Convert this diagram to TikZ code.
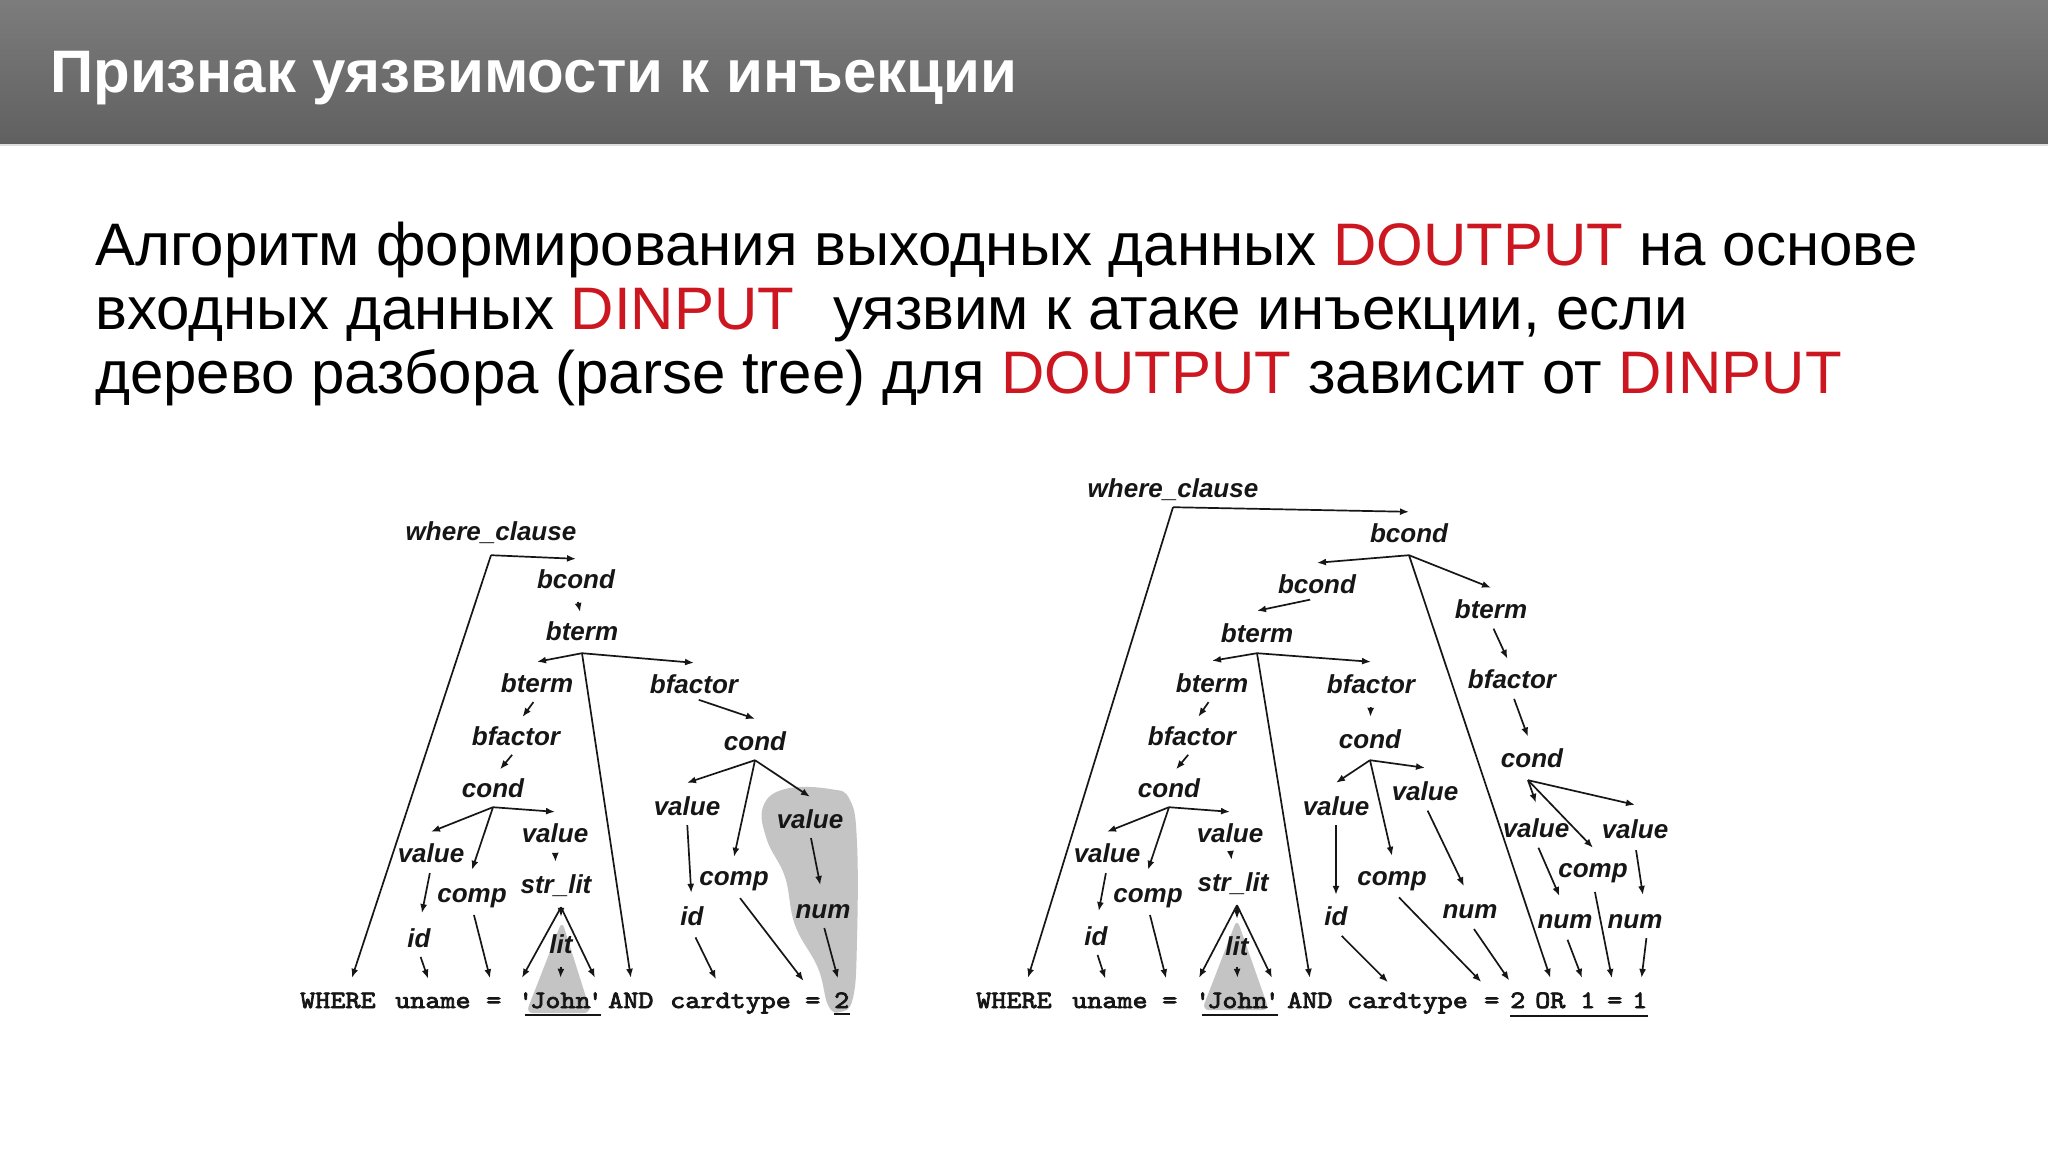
\documentclass[tikz,border=0pt]{standalone}
\usepackage{fontspec}
\setmainfont{Liberation Sans}
\newfontfamily\codefont{lmmono10-regular.otf}[Ligatures=TeXOff,FakeBold=3,FakeStretch=1.15]
\usetikzlibrary{arrows.meta,calc}
\definecolor{myred}{RGB}{204,22,32}
\definecolor{hdtop}{RGB}{124,124,124}
\definecolor{hdbot}{RGB}{96,96,96}
\definecolor{shgray}{RGB}{196,196,196}
\definecolor{ink}{RGB}{22,22,22}
\newcommand\redw[1]{\textcolor{myred}{#1}}
\begin{document}
\begin{tikzpicture}[x=1pt,y=-1pt,
  tl/.style={font=\fontsize{26}{26}\selectfont\bfseries\itshape, text=ink, inner sep=0pt, text height=19pt, text depth=5pt, anchor=base},
  tok/.style={font=\codefont\fontsize{25}{25}\selectfont, text=ink, inner sep=0pt, text height=15pt, text depth=4pt, anchor=base west},
  arr/.style={draw=ink, line width=1.7pt, -{Latex[length=9pt,width=7pt]}},
  uln/.style={draw=ink, line width=2pt},
  body/.style={font=\fontsize{60}{64}\selectfont, text=black, inner sep=0pt, anchor=base west}]
\useasboundingbox (0,0) rectangle (2048,1152);
\fill[white] (0,0) rectangle (2048,1152);
% header
\shade[top color=hdtop, bottom color=hdbot] (0,0) rectangle (2048,144);
\fill[gray!25] (0,144) rectangle (2048,146);
\node[anchor=base west, inner sep=0pt, text=white, font=\fontsize{60}{62}\selectfont\bfseries] (title) at (50,92) {Признак уязвимости к инъекции};
% body text
\node[body] (line1) at (95,265) {Алгоритм формирования выходных данных \redw{DOUTPUT} на основе};
\node[body] (line2) at (95,329) {входных данных \redw{DINPUT}\hspace*{39pt}уязвим к атаке инъекции, если};
\node[body] (line3) at (95,393) {дерево разбора (parse tree) для \redw{DOUTPUT} зависит от \redw{DINPUT}};

% grey shading
\fill[shgray, rounded corners=7pt] (562,921) -- (591,1013) -- (526,1013) -- cycle;
\fill[shgray] plot[smooth cycle, tension=0.7] coordinates {(763,807) (767,840) (785,877) (795,925) (818,968) (828,1005) (840,1012) (853,998) (857,940) (857,843) (850,800) (830,789) (785,789)};
\fill[shgray, rounded corners=7pt] (1237,919) -- (1269,1010) -- (1202,1010) -- cycle;

% ---------- left tree ----------
\node[tl] (Lwc) at (491,540) {where\_clause};
\node[tl] (Lbc) at (576,588) {bcond};
\node[tl] (Lbt1) at (582,640) {bterm};
\node[tl] (Lbt2) at (537,692) {bterm};
\node[tl] (Lbfr) at (694,693) {bfactor};
\node[tl] (Lbfl) at (516,745) {bfactor};
\node[tl] (Lcr) at (755,750) {cond};
\node[tl] (Lcl) at (493,797) {cond};
\node[tl] (Lvr1) at (687,815) {value};
\node[tl] (Lvr2) at (810,828) {value};
\node[tl] (Lvl1) at (431,862) {value};
\node[tl] (Lvl2) at (555,842) {value};
\node[tl] (Lcpl) at (472,902) {comp};
\node[tl] (Lsl) at (556,893) {str\_lit};
\node[tl] (Lcpr) at (734,885) {comp};
\node[tl] (Lidl) at (419,947) {id};
\node[tl] (Lidr) at (692,925) {id};
\node[tl] (Lnum) at (823,918) {num};
\node[tl] (Llit) at (561,953) {lit};

\node[tok] (LtW) at (300,1008) {WHERE};
\node[tok] (LtU) at (395,1008) {uname};
\node[tok] (LtE) at (486,1008) {=};
\node[tok] (LtJ) at (518,1008) {'\kern-3pt John\kern-3pt'};
\node[tok] (LtA) at (608,1008) {AND};
\node[tok] (LtC) at (670,1008) {cardtype};
\node[tok] (LtE2) at (805,1008) {=};
\node[tok] (Lt2) at (834,1008) {2};
\draw[uln] ([xshift=7pt,yshift=-7pt]LtJ.base west) -- ([xshift=-2pt,yshift=-7pt]LtJ.base east);
\draw[uln] ([yshift=-6pt]Lt2.base west) -- ([yshift=-6pt]Lt2.base east);

\coordinate (LwcF) at ([yshift=-10pt]Lwc.south);
\draw[arr] (LwcF) -- ([yshift=10pt]Lbc.north);
\draw[arr] (LwcF) -- ([xshift=14pt,yshift=15pt]LtW.north);
\draw[arr, shorten <=9pt, shorten >=9pt] (Lbc.south) -- (Lbt1.north);
\coordinate (LbtF) at ([yshift=-8pt]Lbt1.south);
\draw[arr] (LbtF) -- ([yshift=11pt]Lbt2.north);
\draw[arr] (LbtF) -- ([yshift=11pt]Lbfr.north);
\draw[arr] (LbtF) -- ([yshift=15pt]LtA.north);
\draw[arr, shorten <=6pt, shorten >=11pt] (Lbt2.south) -- (Lbfl.north);
\draw[arr, shorten <=6pt, shorten >=11pt] (Lbfl.south) -- (Lcl.north);
\coordinate (LclF) at ([yshift=-5pt]Lcl.south);
\draw[arr] (LclF) -- ([yshift=11pt]Lvl1.north);
\draw[arr] (LclF) -- ([yshift=13pt]Lcpl.north);
\draw[arr] (LclF) -- ([yshift=11pt]Lvl2.north);
\draw[arr, shorten <=6pt, shorten >=15pt] (Lvl1.south) -- (Lidl.north);
\draw[arr, shorten <=8pt, shorten >=12pt] (Lvl2.south) -- (Lsl.north);
\coordinate (LslF) at ([xshift=5pt,yshift=-9pt]Lsl.south);
\draw[arr] (LslF) -- ([xshift=4pt,yshift=15pt]LtJ.north west);
\draw[arr] (LslF) -- ([xshift=-8pt,yshift=15pt]LtJ.north east);
\draw[arr] (LslF) -- ([yshift=17pt]Llit.north);
\draw[arr] ([yshift=-14pt]Llit.base) -- ([yshift=15pt]LtJ.north);
\draw[arr, shorten <=5pt, shorten >=15pt] (Lidl.south) -- (LtU.north);
\draw[arr, shorten <=8pt, shorten >=15pt] (Lcpl.south) -- (LtE.north);
\draw[arr, shorten <=5pt] (Lbfr.south) -- ([yshift=12pt]Lcr.north);
\coordinate (LcrF) at ([yshift=-5pt]Lcr.south);
\draw[arr] (LcrF) -- ([yshift=13pt]Lvr1.north);
\draw[arr] (LcrF) -- ([yshift=9pt]Lcpr.north);
\draw[arr] (LcrF) -- ([yshift=12pt]Lvr2.north);
\draw[arr, shorten <=5pt, shorten >=13pt] (Lvr1.south) -- (Lidr.north);
\draw[arr, shorten <=8pt, shorten >=15pt] (Lidr.south) -- ([xshift=-8pt]LtC.north);
\draw[arr, shorten <=10pt, shorten >=15pt] (Lcpr.south) -- (LtE2.north);
\draw[arr, shorten <=5pt, shorten >=14pt] (Lvr2.south) -- (Lnum.north);
\draw[arr, shorten <=5pt, shorten >=15pt] (Lnum.south) -- (Lt2.north);

% ---------- right tree ----------
\node[tl] (Rwc) at (1173,497) {where\_clause};
\node[tl] (Rbc1) at (1409,542) {bcond};
\node[tl] (Rbc2) at (1317,593) {bcond};
\node[tl] (Rbt1) at (1257,642) {bterm};
\node[tl] (Rbt2) at (1212,692) {bterm};
\node[tl] (Rbfm) at (1371,693) {bfactor};
\node[tl] (Rbfl) at (1192,745) {bfactor};
\node[tl] (Rcm) at (1370,748) {cond};
\node[tl] (Rcl) at (1169,797) {cond};
\node[tl] (Rvl1) at (1107,862) {value};
\node[tl] (Rvl2) at (1230,842) {value};
\node[tl] (Rcpl) at (1148,902) {comp};
\node[tl] (Rsl) at (1233,891) {str\_lit};
\node[tl] (Ridl) at (1096,945) {id};
\node[tl] (Rlit) at (1237,955) {lit};
\node[tl] (Rvm1) at (1336,815) {value};
\node[tl] (Rvm2) at (1425,800) {value};
\node[tl] (Ridm) at (1336,925) {id};
\node[tl] (Rcpm) at (1392,885) {comp};
\node[tl] (Rnm) at (1470,918) {num};
\node[tl] (Rbt3) at (1491,618) {bterm};
\node[tl] (Rbf3) at (1512,688) {bfactor};
\node[tl] (Rc3) at (1532,767) {cond};
\node[tl] (Rv31) at (1536,837) {value};
\node[tl] (Rv32) at (1635,838) {value};
\node[tl] (Rcp3) at (1593,877) {comp};
\node[tl] (Rn31) at (1565,928) {num};
\node[tl] (Rn32) at (1635,928) {num};

\node[tok] (RtW) at (976,1008) {WHERE};
\node[tok] (RtU) at (1072,1008) {uname};
\node[tok] (RtE) at (1162,1008) {=};
\node[tok] (RtJ) at (1195,1008) {'\kern-3pt John\kern-3pt'};
\node[tok] (RtA) at (1287,1008) {AND};
\node[tok] (RtC) at (1347,1008) {cardtype};
\node[tok] (RtE2) at (1484,1008) {=};
\node[tok] (Rt2) at (1510,1008) {2};
\node[tok] (RtOR) at (1535,1008) {OR};
\node[tok] (Rt1) at (1580,1008) {1};
\node[tok] (RtE3) at (1607,1008) {=};
\node[tok] (Rt1b) at (1632,1008) {1};
\draw[uln] ([xshift=7pt,yshift=-7pt]RtJ.base west) -- ([xshift=-2pt,yshift=-7pt]RtJ.base east);
\draw[uln] ([yshift=-8pt]Rt2.base west) -- ([yshift=-8pt]Rt1b.base east);

\coordinate (RwcF) at ([yshift=-5pt]Rwc.south);
\draw[arr] (RwcF) -- ([yshift=11pt]Rbc1.north);
\draw[arr] (RwcF) -- ([xshift=14pt,yshift=15pt]RtW.north);
\coordinate (Rbc1F) at ([yshift=-8pt]Rbc1.south);
\draw[arr] (Rbc1F) -- ([yshift=11pt]Rbc2.north);
\draw[arr] (Rbc1F) -- ([yshift=11pt]Rbt3.north);
\draw[arr] (Rbc1F) -- ([yshift=15pt]RtOR.north);
\draw[arr, shorten <=7pt] (Rbc2.south) -- ([yshift=12pt]Rbt1.north);
\coordinate (Rbt1F) at ([yshift=-6pt]Rbt1.south);
\draw[arr] (Rbt1F) -- ([yshift=12pt]Rbt2.north);
\draw[arr] (Rbt1F) -- ([yshift=12pt]Rbfm.north);
\draw[arr] (Rbt1F) -- ([yshift=15pt]RtA.north);
\draw[arr, shorten <=6pt, shorten >=11pt] (Rbt2.south) -- (Rbfl.north);
\draw[arr, shorten <=6pt, shorten >=11pt] (Rbfl.south) -- (Rcl.north);
\coordinate (RclF) at ([yshift=-5pt]Rcl.south);
\draw[arr] (RclF) -- ([yshift=11pt]Rvl1.north);
\draw[arr] (RclF) -- ([yshift=13pt]Rcpl.north);
\draw[arr] (RclF) -- ([yshift=11pt]Rvl2.north);
\draw[arr, shorten <=6pt, shorten >=15pt] (Rvl1.south) -- (Ridl.north);
\draw[arr, shorten <=5pt, shorten >=15pt] (Ridl.south) -- (RtU.north);
\draw[arr, shorten <=8pt, shorten >=15pt] (Rcpl.south) -- (RtE.north);
\draw[arr, shorten <=8pt, shorten >=12pt] (Rvl2.south) -- (Rsl.north);
\coordinate (RslF) at ([xshift=4pt,yshift=-9pt]Rsl.south);
\draw[arr] (RslF) -- ([xshift=4pt,yshift=15pt]RtJ.north west);
\draw[arr] (RslF) -- ([xshift=-8pt,yshift=15pt]RtJ.north east);
\draw[arr] (RslF) -- ([yshift=17pt]Rlit.north);
\draw[arr] ([yshift=-12pt]Rlit.base) -- ([yshift=15pt]RtJ.north);
\draw[arr, shorten <=9pt, shorten >=12pt] (Rbfm.south) -- (Rcm.north);
\coordinate (RcmF) at ([yshift=-7pt]Rcm.south);
\draw[arr] (RcmF) -- ([yshift=13pt]Rvm1.north);
\draw[arr] (RcmF) -- ([yshift=10pt]Rcpm.north);
\draw[arr] (RcmF) -- ([yshift=13pt]Rvm2.north);
\draw[arr, shorten <=5pt, shorten >=11pt] (Rvm1.south) -- (Ridm.north);
\draw[arr, shorten <=8pt, shorten >=15pt] (Ridm.south) -- ([xshift=-9pt]RtC.north);
\draw[arr, shorten <=10pt, shorten >=15pt] (Rcpm.south) -- (RtE2.north);
\draw[arr, shorten <=6pt, shorten >=14pt] (Rvm2.south) -- (Rnm.north);
\draw[arr, shorten <=7pt, shorten >=15pt] (Rnm.south) -- (Rt2.north);
\draw[arr, shorten <=6pt, shorten >=11pt] (Rbt3.south) -- (Rbf3.north);
\draw[arr, shorten <=6pt, shorten >=12pt] (Rbf3.south) -- (Rc3.north);
\coordinate (Rc3F) at ([xshift=-4pt,yshift=-8pt]Rc3.south);
\draw[arr] (Rc3F) -- ([yshift=15pt]Rv31.north);
\draw[arr] (Rc3F) -- ([yshift=10pt]Rcp3.north);
\draw[arr] (Rc3F) -- ([yshift=14pt]Rv32.north);
\draw[arr, shorten <=6pt, shorten >=14pt] (Rv31.south) -- (Rn31.north);
\draw[arr, shorten <=7pt, shorten >=16pt] (Rn31.south) -- (Rt1.north);
\draw[arr, shorten <=10pt, shorten >=15pt] (Rcp3.south) -- (RtE3.north);
\draw[arr, shorten <=7pt, shorten >=14pt] (Rv32.south) -- ([xshift=10pt]Rn32.north);
\draw[arr, shorten <=5pt, shorten >=15pt] ([xshift=12pt]Rn32.south) -- (Rt1b.north);
\end{tikzpicture}
\end{document}
